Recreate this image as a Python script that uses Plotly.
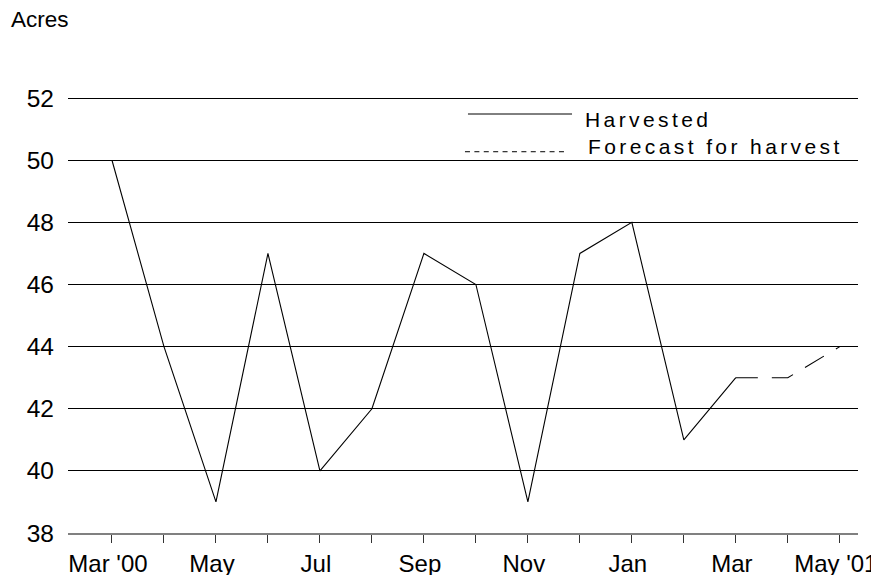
import plotly.graph_objects as go

months = ["Mar '00", "Apr", "May", "Jun", "Jul", "Aug", "Sep", "Oct", "Nov", "Dec",
          "Jan", "Feb", "Mar", "Apr", "May '01"]
tick_text = ["Mar '00", "", "May", "", "Jul", "", "Sep", "", "Nov", "", "Jan", "", "Mar", "", "May '01"]
harvested = [50, 44, 39, 47, 40, 42, 47, 46, 39, 47, 48, 41, 43]
forecast_idx = [12, 13, 14]
forecast = [43, 43, 44]
y_ticks = [38, 40, 42, 44, 46, 48, 50, 52]

FONT = "Liberation Sans, Arial, sans-serif"

fig = go.Figure()
fig.add_trace(go.Scatter(x=list(range(len(harvested))), y=harvested, mode="lines",
                         line=dict(color="black", width=1.1), name="Harvested",
                         showlegend=False))
fig.add_trace(go.Scatter(x=forecast_idx, y=forecast, mode="lines",
                         line=dict(color="black", width=1.1, dash="22px,14px"),
                         name="Forecast for harvest", showlegend=False))

fig.update_layout(
    width=879, height=575,
    margin=dict(l=60, r=29, t=87, b=50, autoexpand=False),
    paper_bgcolor="white", plot_bgcolor="white",
    font=dict(family=FONT, color="black", size=24.5),
    xaxis=dict(range=[-0.846, 14.35], tickmode="array", tickvals=list(range(len(months))),
               ticktext=tick_text, ticks="outside", ticklen=8, tickcolor="#333333",
               tickwidth=1, showgrid=False, showline=True, linecolor="#808080",
               linewidth=2, zeroline=False, tickfont=dict(size=24), automargin=False,
               ticklabelshift=-4),
    yaxis=dict(range=[38, 52.1], tickvals=y_ticks, showgrid=True, gridcolor="black",
               gridwidth=1, zeroline=False, showline=False, ticks="",
               ticklabelstandoff=13, tickfont=dict(size=24.5), automargin=False),
)

# manual legend (paper coordinates)
fig.add_shape(type="line", xref="paper", yref="paper", x0=0.5063, x1=0.638,
              y0=0.9566, y1=0.9566, line=dict(color="black", width=1))
fig.add_shape(type="line", xref="paper", yref="paper", x0=0.5025, x1=0.6329,
              y0=0.8705, y1=0.8705, line=dict(color="black", width=1, dash="5px,4.4px"))
fig.add_annotation(xref="paper", yref="paper", x=0.6519, y=0.9452, xanchor="left",
                   yanchor="middle", showarrow=False,
                   text='<span style="letter-spacing:3.4px">Harvested</span>',
                   font=dict(size=21))
fig.add_annotation(xref="paper", yref="paper", x=0.6557, y=0.8813, xanchor="left",
                   yanchor="middle", showarrow=False,
                   text='<span style="letter-spacing:3.4px">Forecast for harvest</span>',
                   font=dict(size=21))
fig.add_annotation(xref="paper", yref="paper", x=-0.0747, y=1.1735, xanchor="left",
                   yanchor="middle", showarrow=False, text="Acres", font=dict(size=22.5))

fig.write_html("out.html")
